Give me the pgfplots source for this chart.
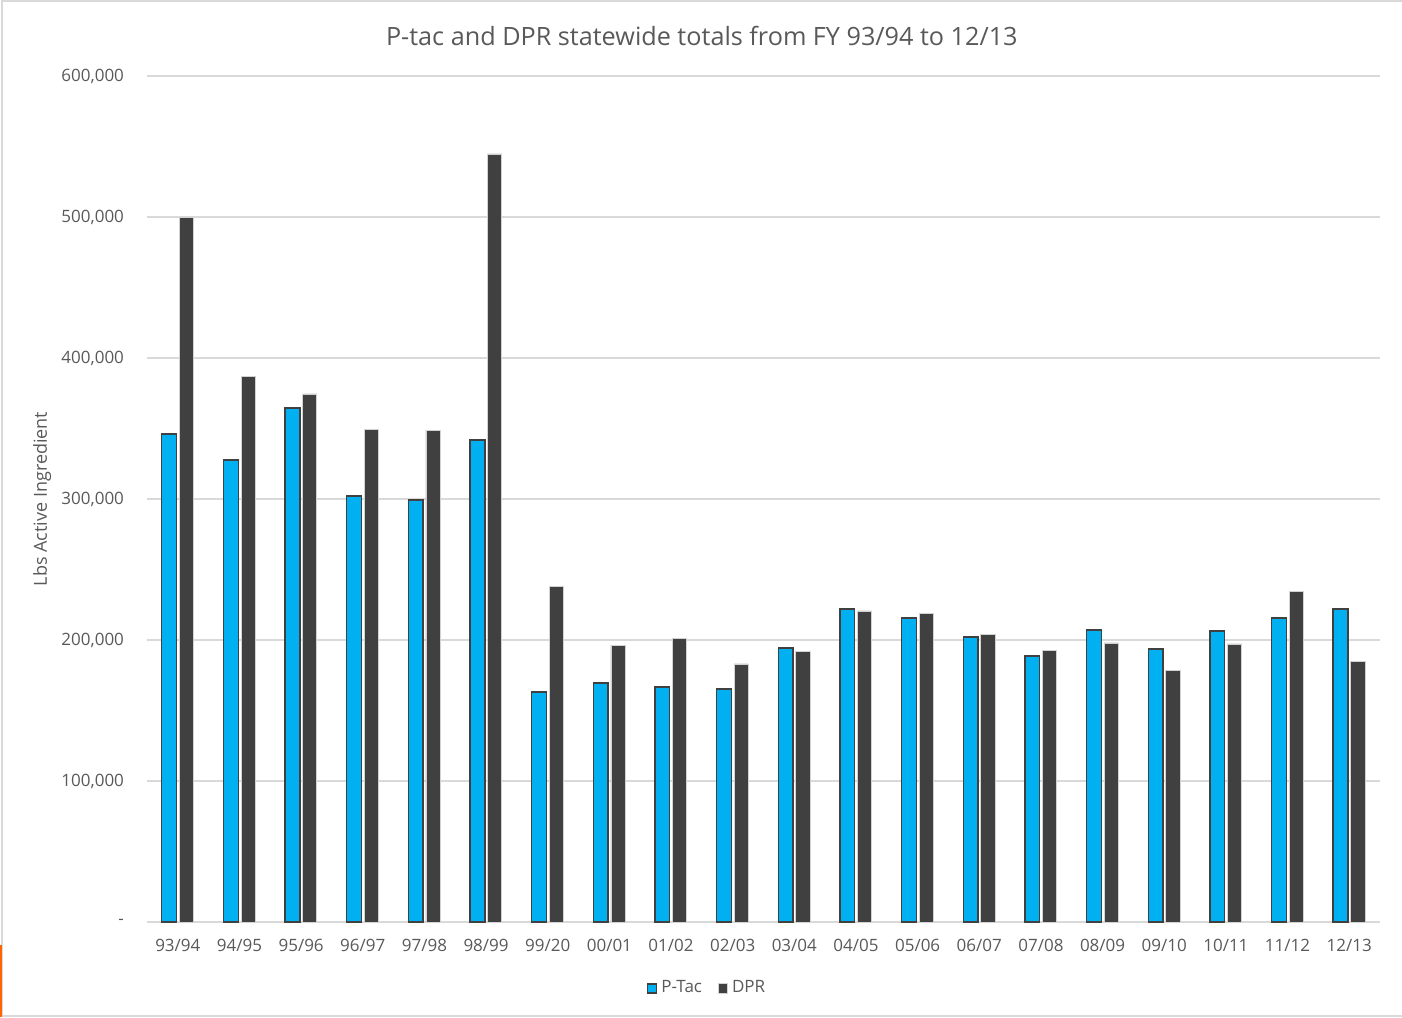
\documentclass[border=0pt]{standalone}
\usepackage{pgfplots}
\pgfplotsset{compat=1.18}
\usepackage{fontspec}
\setmainfont{Open Sans}
\definecolor{ptac}{HTML}{00B0F0}
\definecolor{dpr}{HTML}{404040}
\definecolor{txt}{HTML}{595959}
\definecolor{gridc}{HTML}{D9D9D9}

\begin{document}
\begin{tikzpicture}
% frame of the chart area (1 px = 0.5pt)
\useasboundingbox (0pt,0pt) rectangle (701pt,508.5pt);
\draw[gridc, line width=1pt] (1pt,0.75pt) -- (1pt,508pt) -- (701pt,508pt);
\draw[gridc, line width=1pt] (1pt,0.75pt) -- (701pt,0.75pt);
\fill[orange!80!red] (0pt,0pt) rectangle (1.2pt,36pt);

\begin{axis}[
    at={(73.5pt,47.5pt)}, anchor=south west,
    scale only axis,
    width=616.5pt, height=423pt,
    xmin=-0.5, xmax=19.5,
    ymin=0, ymax=600000,
    scaled y ticks=false,
    ytick={0,100000,...,600000},
    yticklabels={{-},{100,000},{200,000},{300,000},{400,000},{500,000},{600,000}},
    xtick={0,...,19},
    xticklabels={93/94,94/95,95/96,96/97,97/98,98/99,99/20,00/01,01/02,02/03,
                 03/04,04/05,05/06,06/07,07/08,08/09,09/10,10/11,11/12,12/13},
    axis line style={draw=none},
    major tick length=0pt,
    ymajorgrids=true,
    grid style={gridc, line width=0.75pt},
    tick label style={font=\fontsize{8.5}{10}\selectfont, text=txt},
    xticklabel style={anchor=center, yshift=-11.5pt},
    yticklabel style={anchor=east, xshift=-8pt},
    ylabel={Lbs Active Ingredient},
    ylabel style={at={(axis description cs:-0.085,0.5)}, anchor=center,
                  font=\fontsize{9}{10}\selectfont, text=txt},
    title={P-tac and DPR statewide totals from FY 93/94 to 12/13},
    title style={at={(axis description cs:0.45,1.033)}, anchor=center,
                 font=\fontsize{12.6}{14}\selectfont, text=txt},
    legend style={at={(axis description cs:0.455,-0.0785)}, anchor=center,
                  draw=none, fill=none, legend columns=2,
                  font=\fontsize{8.5}{10}\selectfont, text=txt,
                  /tikz/every even column/.append style={column sep=6pt}},
    legend image code/.code={
        \draw[#1] (0pt,-2.3pt) rectangle (4.6pt,2.3pt);
    },
    clip=false,
]
\addplot[ybar, bar width=0.24, bar shift=-0.14, fill=ptac, draw=dpr, line width=0.7pt]
coordinates {
(0,346000) (1,327600) (2,364500) (3,302100) (4,299300) (5,341800)
(6,163100) (7,169500) (8,166700) (9,165200) (10,194300) (11,222000)
(12,215600) (13,202100) (14,188600) (15,207100) (16,193600) (17,206400)
(18,215600) (19,222000)
};
\addlegendentry{P-Tac}
\addplot[ybar, bar width=0.23, bar shift=0.14, fill=dpr, draw=gray!35, line width=0.4pt]
coordinates {
(0,500000) (1,387200) (2,374500) (3,349600) (4,348900) (5,544700)
(6,238300) (7,196400) (8,201400) (9,183000) (10,192200) (11,220600)
(12,219100) (13,204200) (14,192900) (15,197900) (16,178700) (17,197200)
(18,234700) (19,185100)
};
\addlegendentry{DPR}
\end{axis}
\end{tikzpicture}
\end{document}
